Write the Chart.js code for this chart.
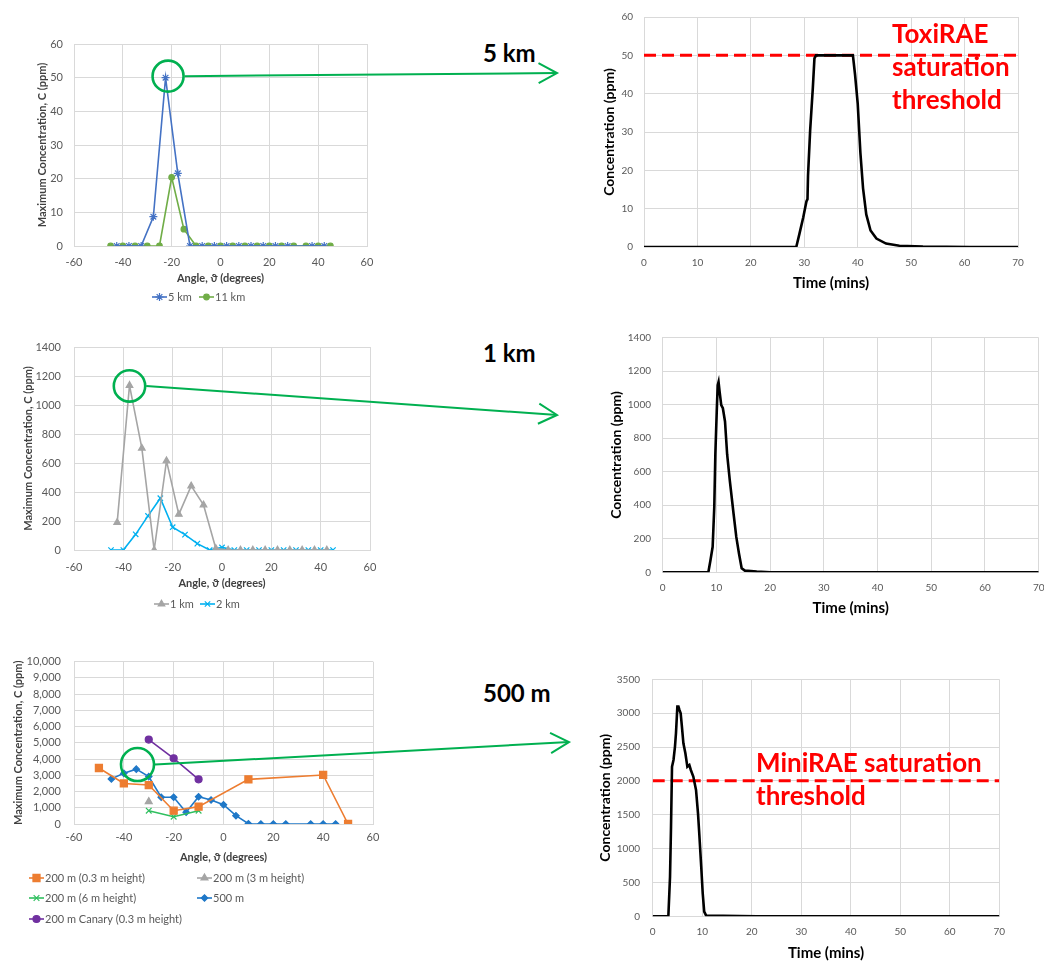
<!DOCTYPE html>
<html>
<head>
<meta charset="utf-8">
<script src="https://cdn.jsdelivr.net/npm/chart.js@4.4.1/dist/chart.umd.min.js"></script>
<style>
  html, body { margin: 0; padding: 0; background: #fff; overflow: hidden; width: 1044px; height: 961px; }
  .panel { position: absolute; }
  .note { position: absolute; font-family: Lato, "Open Sans", "DejaVu Sans", sans-serif; font-weight: 700; white-space: nowrap; }
  .dist { font-size: 24px; line-height: 30px; color: #000; }
  .limit { font-size: 26px; line-height: 33px; color: #ff0000; }
  #callouts { position: absolute; left: 0; top: 0; z-index: 5; pointer-events: none; }
</style>
</head>
<body>
<canvas id="profile5km" class="panel" style="left:0px;top:0px" width="390" height="310"></canvas>
<canvas id="series5km" class="panel" style="left:590px;top:0px" width="454" height="300"></canvas>
<canvas id="profile1km" class="panel" style="left:0px;top:320px" width="390" height="300"></canvas>
<canvas id="series1km" class="panel" style="left:590px;top:320px" width="470" height="300"></canvas>
<canvas id="profile500m" class="panel" style="left:0px;top:640px" width="390" height="321"></canvas>
<canvas id="series500m" class="panel" style="left:590px;top:660px" width="454" height="305"></canvas>

<div class="note dist" style="left:483px;top:38px">5 km</div>
<div class="note dist" style="left:483px;top:338px">1 km</div>
<div class="note dist" style="left:483px;top:678px">500 m</div>
<div class="note limit" style="left:892px;top:17px">ToxiRAE<br>saturation<br>threshold</div>
<div class="note limit" style="left:756px;top:746px">MiniRAE saturation<br>threshold</div>

<svg id="callouts" width="1044" height="961" xmlns="http://www.w3.org/2000/svg"></svg>

<script>
// ---------- Maximum concentration vs. arc angle ----------
const angle5km  = [-42.5, -37.5, -32.5, -27.5, -22.5, -17.5, -12.5, -7.5, -2.5, 2.5, 7.5, 12.5, 17.5, 22.5, 27.5, 37.5, 42.5];
const conc5km   = [0, 0, 0, 8.7, 50, 21.6, 0, 0, 0, 0, 0, 0, 0, 0, 0, 0, 0];
const angle11km = [-45, -40, -35, -30, -25, -20, -15, -10, -5, 0, 5, 10, 15, 20, 25, 30, 35, 40, 45];
const conc11km  = [0, 0, 0, 0, 0, 20.4, 5, 0, 0, 0, 0, 0, 0, 0, 0, 0, 0, 0, 0];

const angle1km  = [-42.5, -37.5, -32.5, -27.5, -22.5, -17.5, -12.5, -7.5, -2.5, 2.5, 7.5, 12.5, 17.5, 22.5, 27.5, 32.5, 37.5, 42.5];
const conc1km   = [189, 1135, 702, 0, 615, 246, 442, 311, 10, 0, 0, 0, 0, 0, 0, 0, 0, 0];
const angle2km  = [-45, -40, -35, -30, -25, -20, -15, -10, -5, 0, 5, 10, 15, 20, 25, 30, 35, 40, 45];
const conc2km   = [0, 0, 108, 235, 357, 157, 106, 44, 0, 18, 0, 0, 0, 0, 0, 0, 0, 0, 0];

const angle200Low    = [-50, -40, -30, -20, -10, 10, 40, 50];
const conc200Low     = [3450, 2500, 2400, 820, 1070, 2750, 3020, 0];
const angle200Mid    = [-30];
const conc200Mid     = [1380];
const angle200High   = [-30, -20, -10];
const conc200High    = [820, 450, 820];
const angle500m      = [-45, -40, -35, -30, -25, -20, -15, -10, -5, 0, 5, 10, 15, 20, 25, 35, 40, 45];
const conc500m       = [2780, 3120, 3380, 2920, 1650, 1650, 720, 1680, 1480, 1190, 510, 20, 0, 0, 0, 0, 0, 0];
const angleCanary    = [-30, -20, -10];
const concCanary     = [5200, 4050, 2750];

// ---------- Concentration time series at the peak sensor ----------
const time5km = [0, 28.5, 29.1, 29.8, 30.4, 30.6, 30.7, 31.1, 31.6, 31.9, 32.2, 35, 39.1, 39.5, 40.0, 40.5, 41.0, 41.6, 42.4, 43.5, 45.3, 47.8, 52.2, 61, 70];
const ppm5km  = [0, 0, 3.5, 7.7, 11.9, 12.5, 18.7, 30.5, 41.5, 49.2, 50, 50, 50, 45, 37.4, 24.6, 15.3, 8.5, 4.3, 2.2, 0.9, 0.34, 0.1, 0, 0];

const time1km = [0, 8.5, 8.9, 9.3, 9.6, 9.8, 10.06, 10.24, 10.4, 10.6, 10.9, 11.2, 11.6, 12.0, 12.5, 13.2, 13.7, 14.2, 14.7, 15.3, 17.5, 20, 70];
const ppm1km  = [0, 0, 73, 152, 388, 703, 959, 1116, 1136, 1077, 998, 979, 900, 703, 545, 348, 211, 112, 24, 10, 4, 0, 0];

const time500m = [0, 3.16, 3.5, 3.7, 3.9, 4.2, 4.5, 4.7, 4.98, 5.2, 5.4, 5.65, 5.9, 6.2, 6.6, 7.0, 7.4, 7.7, 8.2, 8.75, 9.15, 9.4, 9.8, 10.1, 10.4, 10.8, 17.6, 21, 70];
const ppm500m  = [0, 0, 586, 1324, 2210, 2309, 2506, 2703, 3097, 3097, 3047, 2998, 2801, 2555, 2407, 2210, 2235, 2161, 2063, 1866, 1521, 1226, 734, 340, 69, 10, 5, 0, 0];

// Sensor saturation limits (ppm)
const toxiRaeLimit = 50;
const miniRaeLimit = 2000;

// ---------- shared styling ----------
const FONT = 'Lato, "Open Sans", "DejaVu Sans", sans-serif';
const GRID = '#d9d9d9';
const TICK = '#595959';
const TITLE = '#404040';
Chart.defaults.font.family = FONT;
Chart.defaults.color = TICK;

const pts = (xs, ys) => xs.map((x, i) => ({ x: x, y: ys[i] }));
const plain = v => String(v);
const grouped = v => Number(v).toLocaleString('en-US');

function series(label, xs, ys, color, style, radius) {
  return {
    label: label, data: pts(xs, ys),
    borderColor: color, backgroundColor: color,
    pointBackgroundColor: color, pointBorderColor: color,
    borderWidth: 1.6, pointStyle: style, pointRadius: radius, pointBorderWidth: 1.2,
    tension: 0
  };
}

// Legend row: short line with the marker in its middle, then the label
function keyPlugin(items) {
  return {
    id: 'seriesKey',
    afterDraw(chart) {
      const ctx = chart.ctx;
      ctx.save();
      items.forEach(it => {
        const ds = chart.data.datasets[it.ds];
        ctx.strokeStyle = ds.borderColor;
        ctx.lineWidth = ds.borderWidth;
        ctx.beginPath();
        ctx.moveTo(it.x, it.y);
        ctx.lineTo(it.x + 15, it.y);
        ctx.stroke();
        ctx.fillStyle = ds.pointBackgroundColor;
        ctx.strokeStyle = ds.pointBorderColor;
        ctx.lineWidth = ds.pointBorderWidth;
        if (Chart.helpers && Chart.helpers.drawPoint) {
          Chart.helpers.drawPoint(ctx, { pointStyle: ds.pointStyle, radius: ds.pointRadius, borderWidth: ds.pointBorderWidth, rotation: 0 }, it.x + 7.5, it.y);
        } else {
          ctx.beginPath(); ctx.arc(it.x + 7.5, it.y, ds.pointRadius, 0, Math.PI * 2); ctx.fill();
        }
        ctx.fillStyle = TICK;
        ctx.font = '11px ' + FONT;
        ctx.textBaseline = 'middle';
        ctx.textAlign = 'left';
        ctx.fillText(ds.label, it.x + 16, it.y);
      });
      ctx.restore();
    }
  };
}

function angleChart(id, cfg) {
  return new Chart(document.getElementById(id), {
    type: 'line',
    data: { datasets: cfg.datasets },
    options: {
      responsive: false, animation: false, devicePixelRatio: 1,
      layout: { padding: cfg.pad },
      plugins: { legend: { display: false }, tooltip: { enabled: false } },
      scales: {
        x: {
          type: 'linear', min: -60, max: 60,
          ticks: { stepSize: 20, padding: cfg.xTickPad, font: { size: 11 }, color: TICK, maxRotation: 0 },
          grid: { color: GRID, drawTicks: false }, border: { color: GRID },
          title: { display: true, text: 'Angle, ϑ (degrees)', font: { size: 11, weight: 'bold' }, color: TITLE, padding: { top: 0, bottom: cfg.xTitlePad } },
          afterFit: s => { s.height = cfg.xH; }
        },
        y: {
          min: 0, max: cfg.yMax,
          ticks: { stepSize: cfg.yStep, padding: cfg.yTickPad, font: { size: 11 }, color: TICK, callback: cfg.yFmt },
          grid: { color: GRID, drawTicks: false }, border: { color: GRID },
          title: { display: true, text: 'Maximum Concentration, C (ppm)', font: { size: 11, weight: 'bold' }, color: TITLE, padding: { top: cfg.yTitlePad, bottom: 0 } },
          afterFit: s => { s.width = cfg.yW; }
        }
      }
    },
    plugins: [keyPlugin(cfg.key)]
  });
}

function timeChart(id, cfg) {
  const datasets = [{ data: pts(cfg.t, cfg.c), borderColor: '#000', borderWidth: 2.6, pointRadius: 0, tension: 0 }];
  if (cfg.limit != null) {
    datasets.push({ data: [{ x: 0, y: cfg.limit }, { x: 70, y: cfg.limit }], borderColor: '#ff0000', borderWidth: 3, borderDash: [12, 6], pointRadius: 0 });
  }
  return new Chart(document.getElementById(id), {
    type: 'line',
    data: { datasets: datasets },
    options: {
      responsive: false, animation: false, devicePixelRatio: 1,
      layout: { padding: cfg.pad },
      plugins: { legend: { display: false }, tooltip: { enabled: false } },
      scales: {
        x: {
          type: 'linear', min: 0, max: 70,
          ticks: { stepSize: 10, padding: cfg.xTickPad, font: { size: 10 }, color: TICK, maxRotation: 0 },
          grid: { color: GRID, drawTicks: false }, border: { color: GRID },
          title: { display: true, text: 'Time (mins)', font: { size: 15, weight: 'bold' }, color: '#000', padding: { top: 0, bottom: cfg.xTitlePad } },
          afterFit: s => { s.height = cfg.xH; }
        },
        y: {
          min: 0, max: cfg.yMax,
          ticks: { stepSize: cfg.yStep, padding: cfg.yTickPad, font: { size: 10 }, color: TICK, callback: plain },
          grid: { color: GRID, drawTicks: false }, border: { color: GRID },
          title: { display: true, text: 'Concentration (ppm)', font: { size: 14, weight: 'bold' }, color: '#000', padding: { top: cfg.yTitlePad, bottom: 0 } },
          afterFit: s => { s.width = cfg.yW; }
        }
      }
    }
  });
}

// ---------- 5 km / 11 km arcs ----------
const chart5km = angleChart('profile5km', {
  datasets: [
    series('5 km', angle5km, conc5km, '#4472C4', 'star', 4),
    series('11 km', angle11km, conc11km, '#70AD47', 'circle', 2.8)
  ],
  pad: { top: 44, right: 23, bottom: 24, left: 0 },
  yW: 74, xH: 40, yTickPad: 11, yTitlePad: 35.4, xTickPad: 9.4, xTitlePad: 1.4,
  yMax: 60, yStep: 10, yFmt: plain,
  key: [{ ds: 0, x: 152, y: 297 }, { ds: 1, x: 199, y: 297 }]
});

timeChart('series5km', {
  t: time5km, c: ppm5km, limit: toxiRaeLimit, yMax: 60, yStep: 10,
  pad: { top: 11, right: 26, bottom: 7, left: 0 },
  yW: 54, xH: 46, yTickPad: 11, yTitlePad: 10.6, xTickPad: 10, xTitlePad: 1
});

// ---------- 1 km / 2 km arcs ----------
const chart1km = angleChart('profile1km', {
  datasets: [
    series('1 km', angle1km, conc1km, '#A5A5A5', 'triangle', 3.8),
    series('2 km', angle2km, conc2km, '#00B0F0', 'crossRot', 3.8)
  ],
  pad: { top: 27, right: 20, bottom: 29, left: 0 },
  yW: 74, xH: 41, yTickPad: 13, yTitlePad: 21.4, xTickPad: 10.4, xTitlePad: 1.4,
  yMax: 1400, yStep: 200, yFmt: plain,
  key: [{ ds: 0, x: 154, y: 284 }, { ds: 1, x: 200, y: 284 }]
});

timeChart('series1km', {
  t: time1km, c: ppm1km, limit: null, yMax: 1400, yStep: 200,
  pad: { top: 15.3, right: 21.3, bottom: 2.3, left: 0 },
  yW: 72.7, xH: 45.4, yTickPad: 11.7, yTitlePad: 17.6, xTickPad: 9.7, xTitlePad: 1
});

// ---------- 200 m / 500 m arcs ----------
const chart500m = angleChart('profile500m', {
  datasets: [
    series('200 m (0.3 m height)', angle200Low, conc200Low, '#ED7D31', 'rect', 5),
    series('200 m (3 m height)', angle200Mid, conc200Mid, '#A5A5A5', 'triangle', 4),
    series('200 m (6 m height)', angle200High, conc200High, '#2FBF5F', 'crossRot', 4),
    series('500 m', angle500m, conc500m, '#1F78C8', 'rectRot', 3.2),
    series('200 m Canary (0.3 m height)', angleCanary, concCanary, '#7030A0', 'circle', 3.5)
  ],
  pad: { top: 21.7, right: 17, bottom: 96, left: 0 },
  yW: 74, xH: 41, yTickPad: 13, yTitlePad: 11.4, xTickPad: 6.4, xTitlePad: 1.4,
  yMax: 10000, yStep: 1000, yFmt: grouped,
  key: [
    { ds: 0, x: 29, y: 238 }, { ds: 1, x: 197, y: 238 },
    { ds: 2, x: 29, y: 258 }, { ds: 3, x: 197, y: 258 },
    { ds: 4, x: 29, y: 279 }
  ]
});

timeChart('series500m', {
  t: time500m, c: ppm500m, limit: miniRaeLimit, yMax: 3500, yStep: 500,
  pad: { top: 19.3, right: 44.7, bottom: 2.3, left: 0 },
  yW: 62.7, xH: 46.4, yTickPad: 12.7, yTitlePad: 6.6, xTickPad: 9.7, xTitlePad: 1
});

// ---------- green call-outs linking a peak to its time series ----------
const svg = document.getElementById('callouts');
const NS = 'http://www.w3.org/2000/svg';
const CALLOUT = '#00B050';
function el(name, attrs) {
  const e = document.createElementNS(NS, name);
  Object.keys(attrs).forEach(k => e.setAttribute(k, attrs[k]));
  svg.appendChild(e);
  return e;
}
function callout(chart, canvasId, ax, cy0, dx, dy, r, tipX, tipY) {
  const cv = document.getElementById(canvasId);
  const cx = cv.offsetLeft + chart.scales.x.getPixelForValue(ax) + dx;
  const cy = cv.offsetTop + chart.scales.y.getPixelForValue(cy0) + dy;
  el('circle', { cx: cx, cy: cy, r: r, fill: 'none', stroke: CALLOUT, 'stroke-width': 2.6 });
  const sx = cx + r + 1, sy = cy;
  el('line', { x1: sx, y1: sy, x2: tipX, y2: tipY, stroke: CALLOUT, 'stroke-width': 2 });
  const ang = Math.atan2(tipY - sy, tipX - sx);
  const len = 21, spread = 0.5;
  const p1 = [tipX - len * Math.cos(ang - spread), tipY - len * Math.sin(ang - spread)];
  const p2 = [tipX - len * Math.cos(ang + spread), tipY - len * Math.sin(ang + spread)];
  el('polyline', { points: p1.join(',') + ' ' + tipX + ',' + tipY + ' ' + p2.join(','), fill: 'none', stroke: CALLOUT, 'stroke-width': 2 });
}
callout(chart5km, 'profile5km', -22.5, 50, 2.5, -1.5, 15.5, 557, 73);
callout(chart1km, 'profile1km', -37.5, 1135, 0, 0.5, 15.7, 557, 415);
callout(chart500m, 'profile500m', -35, 3380, 1.2, -4.6, 16.5, 569, 742);
</script>
</body>
</html>
